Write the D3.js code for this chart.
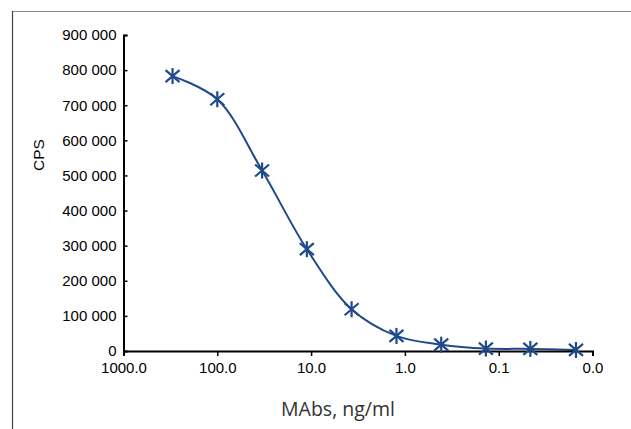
<!DOCTYPE html>
<html>
<head>
<meta charset="utf-8">
<script src="https://cdn.jsdelivr.net/npm/d3@7"></script>
<style>
  html, body { margin: 0; padding: 0; background: #fff; }
  svg { display: block; }
</style>
</head>
<body>
<svg id="chart" width="631" height="429"></svg>
<script>
// Data (concentration in ng/ml, signal in CPS)
const concentrations = [300, 100, 33.3, 11.1, 3.7, 1.23, 0.41, 0.137, 0.046, 0.015];
const cps = [783000, 717000, 514000, 290000, 119000, 43000, 18000, 7000, 6000, 3000];
const xTickValues = [1000, 100, 10, 1, 0.1, 0.01];
const xTickLabels = ["1000.0", "100.0", "10.0", "1.0", "0.1", "0.0"];
const yTickValues = [0, 100000, 200000, 300000, 400000, 500000, 600000, 700000, 800000, 900000];
const yTickLabels = ["0", "100 000", "200 000", "300 000", "400 000", "500 000", "600 000", "700 000", "800 000", "900 000"];
const xTitle = "MAbs, ng/ml";
const yTitle = "CPS";

const svg = d3.select("#chart");
const color = "#1f4a8a";
const tickFont = "'Liberation Sans', Arial, sans-serif";

// frame
svg.append("line").attr("x1", 12.5).attr("y1", 11.5).attr("x2", 631).attr("y2", 11.5)
  .attr("stroke", "#8a8a8a").attr("stroke-width", 1.2);
svg.append("line").attr("x1", 12.5).attr("y1", 11).attr("x2", 12.5).attr("y2", 429)
  .attr("stroke", "#444").attr("stroke-width", 1.2);

const x = d3.scaleLog().domain([1000, 0.01]).range([123.5, 592.5]);
const y = d3.scaleLinear().domain([0, 900000]).range([351, 35]);

// line
const line = d3.line().x((d, i) => x(concentrations[i])).y(d => y(d)).curve(d3.curveCatmullRom.alpha(0.5));
svg.append("path").datum(cps).attr("d", line)
  .attr("fill", "none").attr("stroke", color).attr("stroke-width", 2);

// axes
const yAxis = d3.axisLeft(y).tickValues(yTickValues)
  .tickFormat((d, i) => yTickLabels[i]).tickSizeInner(-4).tickSizeOuter(-4).tickPadding(7);
const gy = svg.append("g").attr("transform", "translate(123.5,0)").call(yAxis)
  .attr("font-family", tickFont).attr("font-size", 15);
gy.select(".domain").attr("stroke-width", 2);
gy.selectAll(".tick line").attr("stroke-width", 1.5);
gy.selectAll("text").attr("fill", "#000");

const xAxis = d3.axisBottom(x).tickValues(xTickValues)
  .tickFormat((d, i) => xTickLabels[i]).tickSizeInner(5).tickSizeOuter(5).tickPadding(6);
const gx = svg.append("g").attr("transform", "translate(0,351)").call(xAxis)
  .attr("font-family", tickFont).attr("font-size", 15);
gx.select(".domain").attr("stroke-width", 2);
gx.selectAll(".tick line").attr("stroke-width", 1.5);
gx.selectAll("text").attr("fill", "#000");

// markers
const mk = svg.append("g");
cps.forEach((v, i) => {
  const cx = x(concentrations[i]), cy = y(v);
  const g = mk.append("g").attr("transform", `translate(${cx},${cy})`)
    .attr("stroke", color).attr("stroke-width", 2.2).attr("fill", "none");
  g.append("line").attr("x1", -7).attr("y1", -6).attr("x2", 7).attr("y2", 6);
  g.append("line").attr("x1", -7).attr("y1", 6).attr("x2", 7).attr("y2", -6);
  g.append("line").attr("x1", 0).attr("y1", -8).attr("x2", 0).attr("y2", 8);
});

// titles
svg.append("text").attr("x", 338).attr("y", 416).attr("text-anchor", "middle")
  .attr("font-family", "'Open Sans', Lato, sans-serif").attr("font-size", 19.5).attr("fill", "#333")
  .text(xTitle);
svg.append("text").attr("transform", "translate(44,155) rotate(-90)").attr("text-anchor", "middle")
  .attr("font-family", tickFont).attr("font-size", 15.5).attr("fill", "#000")
  .text(yTitle);
</script>
</body>
</html>
